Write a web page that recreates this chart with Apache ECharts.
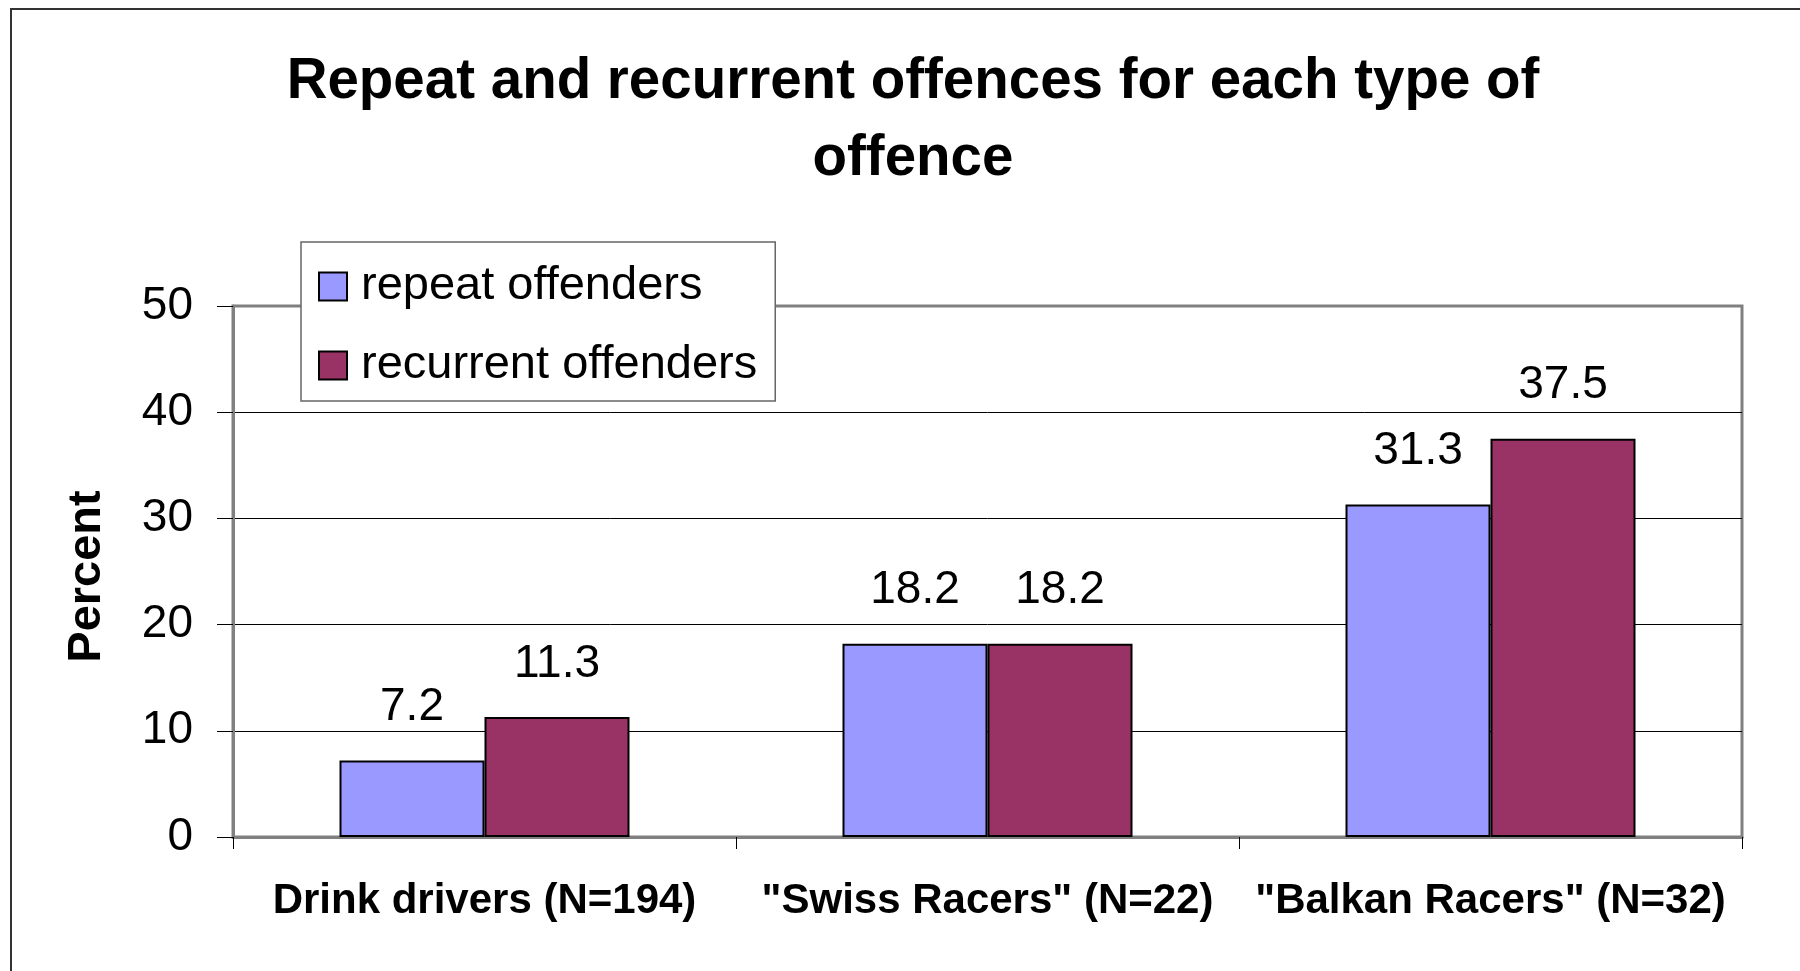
<!DOCTYPE html>
<html>
<head>
<meta charset="utf-8">
<script src="https://cdn.jsdelivr.net/npm/echarts@6/dist/echarts.min.js"></script>
<style>
html,body{margin:0;padding:0;background:#fff;}
#chart{width:1800px;height:971px;}
</style>
</head>
<body>
<div id="chart"></div>
<script>
const categories = ['Drink drivers (N=194)', '"Swiss Racers" (N=22)', '"Balkan Racers" (N=32)'];
const repeatOffenders = [7.2, 18.2, 31.3];
const recurrentOffenders = [11.3, 18.2, 37.5];
const seriesNames = ['repeat offenders', 'recurrent offenders'];
const yTicks = { min: 0, max: 50, interval: 10 };
const titleText = 'Repeat and recurrent offences for each type of\noffence';
const yName = 'Percent';

const FONT = '"Liberation Sans", Arial, sans-serif';
const chart = echarts.init(document.getElementById('chart'), null, { renderer: 'canvas' });

const labelStyle = {
  show: true, position: 'top', distance: 30,
  fontFamily: FONT, fontSize: 46, color: '#000', lineHeight: 46,
  formatter: p => p.value.toFixed(1)
};

chart.setOption({
  backgroundColor: '#fff',
  animation: false,
  graphic: [{
    type: 'rect', silent: true, z: -10,
    shape: { x: 11, y: 9, width: 1850, height: 1050 },
    style: { fill: '#fff', stroke: '#333', lineWidth: 2 }
  }],
  title: {
    text: titleText,
    left: 913, top: 44, textAlign: 'center', padding: 0,
    textStyle: { fontFamily: FONT, fontSize: 56.5, fontWeight: 'bold', color: '#000', lineHeight: 77 }
  },
  legend: {
    orient: 'vertical', left: 301, top: 242,
    padding: [21, 18, 12, 17], itemGap: 32,
    itemWidth: 28, itemHeight: 28, icon: 'rect',
    backgroundColor: '#fff', borderColor: '#666', borderWidth: 1.5,
    z: 20,
    textStyle: { fontFamily: FONT, fontSize: 47, color: '#000', padding: [0, 0, 0, 9] },
    itemStyle: { borderColor: '#000', borderWidth: 2 }
  },
  grid: {
    left: 233, right: 58, top: 306, bottom: 134,
    show: true, borderColor: '#808080', borderWidth: 3, backgroundColor: '#fff'
  },
  xAxis: {
    type: 'category', data: categories,
    axisLine: { lineStyle: { color: '#808080', width: 3 } },
    axisTick: { show: true, length: 12, lineStyle: { color: '#000', width: 1 } },
    axisLabel: { fontFamily: FONT, fontSize: 42, fontWeight: 'bold', color: '#000', margin: 43, interval: 0 },
    splitLine: { show: false }
  },
  yAxis: {
    type: 'value', min: yTicks.min, max: yTicks.max, interval: yTicks.interval,
    name: yName, nameLocation: 'middle', nameGap: 122, nameRotate: 90,
    nameTextStyle: { fontFamily: FONT, fontSize: 47, fontWeight: 'bold', color: '#000', padding: [0, 10, 0, 0] },
    axisLine: { show: true, lineStyle: { color: '#808080', width: 3 } },
    axisTick: { show: true, length: 16, lineStyle: { color: '#000', width: 1 } },
    axisLabel: { fontFamily: FONT, fontSize: 46, color: '#000', margin: 40 },
    splitLine: { show: true, lineStyle: { color: ['#808080', '#000', '#000', '#000', '#000', '#808080'], width: 1 } }
  },
  series: [
    {
      name: seriesNames[0], type: 'bar', data: repeatOffenders,
      barWidth: 145, barGap: '0%',
      itemStyle: { color: '#9999FF', borderColor: '#000', borderWidth: 2 },
      label: labelStyle
    },
    {
      name: seriesNames[1], type: 'bar', data: recurrentOffenders,
      barWidth: 145, barGap: '0%',
      itemStyle: { color: '#993366', borderColor: '#000', borderWidth: 2 },
      label: labelStyle
    }
  ]
});
</script>
</body>
</html>
